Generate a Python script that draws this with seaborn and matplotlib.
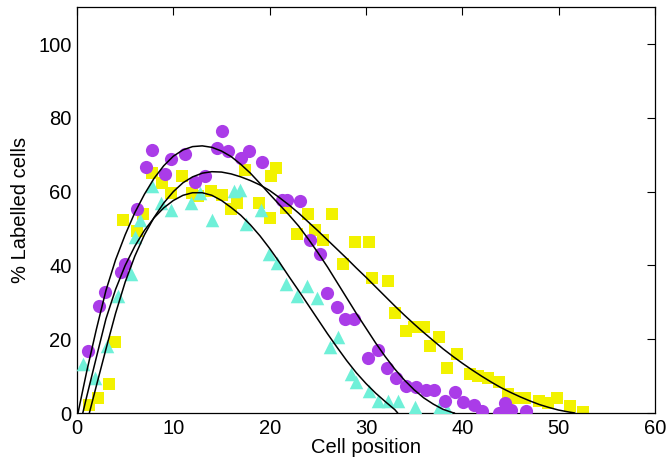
import numpy as np
import pandas as pd
import matplotlib
matplotlib.use("Agg")
import matplotlib.pyplot as plt
import seaborn as sns

# scatter data
purple_x = [1.16, 2.27, 2.94, 4.6, 5.0, 6.2, 7.2, 7.8, 9.1, 9.8, 11.2, 12.2, 13.3, 14.5,
            15.1, 15.7, 17.0, 17.9, 19.2, 21.3, 21.8, 23.1, 24.2, 25.2, 26.0, 27.0, 27.8,
            28.8, 30.2, 31.3, 32.2, 33.1, 34.2, 35.2, 36.2, 37.1, 38.2, 39.2, 40.1, 41.2,
            42.1, 43.8, 44.4, 45.1, 46.6]
purple_y = [16.8, 29.0, 32.8, 38.2, 40.4, 55.3, 66.8, 71.2, 64.9, 68.8, 70.3, 62.5, 64.3, 71.8,
            76.3, 71.1, 69.1, 70.9, 67.9, 57.8, 57.6, 57.4, 46.8, 43.2, 32.6, 28.8, 25.6,
            25.6, 15.0, 17.0, 12.2, 9.5, 7.2, 7.1, 6.3, 6.3, 3.3, 5.6, 2.9, 2.3,
            0.5, 0.0, 2.7, 0.8, 0.6]

yellow_x = [1.25, 2.2, 3.3, 3.9, 4.8, 6.2, 6.9, 7.8, 8.8, 9.8, 10.9, 11.9, 12.6, 13.9, 15.1,
            16.0, 16.6, 17.4, 18.9, 20.0, 20.1, 20.7, 21.7, 22.8, 24.0, 24.7, 25.5, 26.5,
            27.6, 28.9, 30.3, 30.6, 32.3, 33.0, 34.2, 35.0, 36.0, 36.7, 37.6, 38.4, 39.5,
            40.8, 41.6, 42.7, 43.8, 44.7, 45.7, 46.5, 48.0, 48.9, 49.8, 51.2, 52.5]
yellow_y = [2.2, 4.1, 7.8, 19.2, 52.2, 49.3, 53.8, 65.0, 62.3, 59.6, 64.1, 59.6, 58.9, 60.1, 59.2,
            55.3, 56.8, 65.9, 56.8, 52.9, 64.1, 66.4, 55.6, 48.6, 53.8, 49.7, 46.8, 53.8,
            40.5, 46.4, 46.4, 36.7, 35.9, 27.0, 22.3, 23.2, 23.2, 18.2, 20.6, 12.2, 16.1,
            10.7, 10.1, 9.5, 8.3, 5.1, 4.2, 4.2, 3.2, 2.7, 4.2, 1.8, 0.2]

cyan_x = [0.67, 1.9, 3.1, 4.3, 5.6, 6.0, 6.5, 7.8, 8.7, 9.8, 11.8, 12.8, 14.0, 16.3, 16.9,
          17.5, 19.1, 19.96, 20.8, 21.7, 22.8, 23.9, 24.9, 26.3, 27.1, 28.4, 29.0, 30.3,
          31.3, 32.3, 33.3, 35.1, 37.6, 38.4]
cyan_y = [13.2, 9.4, 18.2, 31.7, 37.6, 47.7, 52.4, 61.4, 56.9, 55.1, 56.8, 59.6, 52.2, 60.1, 60.5,
          51.3, 55.1, 43.2, 40.7, 34.9, 31.7, 34.4, 31.1, 17.9, 20.6, 10.5, 8.3, 6.0,
          3.3, 3.3, 3.3, 1.5, 1.3, 0.8]

# fitted curves
purple_fit_x = [0.1, 1, 2, 3, 4, 5, 6, 7, 8, 9, 10, 11, 12, 13, 14, 15, 16, 17, 18, 19, 20,
                21, 22, 23, 24, 25, 26, 27, 28, 29, 30, 31, 32, 33, 34, 35, 36, 37, 38, 39, 39.2]
purple_fit_y = [0, 11.2, 22.6, 33.2, 41.5, 48.3, 54.3, 59.3, 63.6, 67.0, 69.6, 71.3, 72.2, 72.4,
                72.0, 71.0, 69.5, 67.4, 65.0, 62.2, 59.3, 56.5, 53.7, 50.7, 47.2, 43.5, 39.6,
                35.4, 31.2, 27.0, 23.0, 19.0, 15.3, 11.9, 8.9, 6.3, 4.1, 2.4, 1.0, 0.1, 0]

yellow_fit_x = [1.28, 2, 3, 4, 5, 6, 7, 8, 9, 10, 11, 12, 13, 14, 15, 16, 17, 18, 19, 20, 21,
                22, 23, 24, 25, 26, 27, 28, 29, 30, 31, 32, 33, 34, 35, 36, 37, 38, 39, 40,
                41, 42, 43, 44, 45, 46, 47, 48, 49, 50, 51, 51.7]
yellow_fit_y = [0, 7.3, 17.3, 27.0, 35.5, 42.5, 48.3, 53.0, 56.9, 60.0, 62.4, 64.0, 65.0, 65.4,
                65.3, 64.8, 64.0, 63.0, 61.8, 60.3, 58.4, 56.4, 54.2, 51.8, 49.4, 46.9, 44.4,
                41.9, 39.3, 36.8, 34.2, 31.6, 29.0, 26.5, 24.1, 21.8, 19.6, 17.4, 15.4, 13.5,
                11.7, 10.0, 8.4, 6.9, 5.6, 4.4, 3.3, 2.3, 1.5, 0.8, 0.3, 0]

cyan_fit_x = [0.6, 1, 2, 3, 4, 5, 6, 7, 8, 9, 10, 11, 12, 13, 14, 15, 16, 17, 18, 19, 20, 21,
              22, 23, 24, 25, 26, 27, 28, 29, 30, 31, 32, 33, 33.3]
cyan_fit_y = [0, 4.4, 15.0, 25.5, 33.5, 40.0, 45.2, 49.5, 52.9, 55.6, 57.6, 59.0, 59.7, 59.7,
              59.0, 57.6, 55.7, 53.6, 51.0, 48.0, 44.6, 40.9, 37.0, 33.2, 29.3, 25.4, 21.5,
              17.8, 14.2, 10.9, 8.0, 5.4, 3.1, 0.9, 0]

sns.set_style("white")
plt.rcParams["font.family"] = ["Liberation Sans", "DejaVu Sans"]
plt.rcParams["text.color"] = "black"
plt.rcParams["axes.labelcolor"] = "black"

fig = plt.figure(figsize=(6.71, 4.75), dpi=100)
ax = fig.add_axes([0.1148, 0.1305, 0.8612, 0.8545])

yellow_df = pd.DataFrame({"x": yellow_x, "y": yellow_y})
cyan_df = pd.DataFrame({"x": cyan_x, "y": cyan_y})
purple_df = pd.DataFrame({"x": purple_x, "y": purple_y})

sns.scatterplot(data=yellow_df, x="x", y="y", marker="s", s=72, color="#f2f200",
                linewidth=0, ax=ax, zorder=2)
sns.scatterplot(data=cyan_df, x="x", y="y", marker="^", s=95, color="#6ff0d8",
                linewidth=0, ax=ax, zorder=3)
sns.scatterplot(data=purple_df, x="x", y="y", marker="o", s=90, color="#aa3ce8",
                linewidth=0, ax=ax, zorder=4)

for fx, fy in [(purple_fit_x, purple_fit_y), (yellow_fit_x, yellow_fit_y), (cyan_fit_x, cyan_fit_y)]:
    fit_df = pd.DataFrame({"x": fx, "y": fy})
    sns.lineplot(data=fit_df, x="x", y="y", estimator=None, sort=False, color="black",
                 linewidth=1.1, ax=ax, zorder=5)

ax.set_xlim(0, 60)
ax.set_ylim(0, 110)
ax.set_xticks([0, 10, 20, 30, 40, 50, 60])
ax.set_yticks([0, 20, 40, 60, 80, 100])
ax.tick_params(direction="in", length=6, width=0.8, top=True, right=True,
               labelsize=14.5, colors="black", labelcolor="black", pad=4)
for sp in ax.spines.values():
    sp.set_color("black")
    sp.set_linewidth(0.9)
ax.set_xlabel("Cell position", fontsize=14.5, labelpad=0, color="black")
ax.set_ylabel("% Labelled cells", fontsize=14.5, labelpad=6, color="black")

fig.savefig("out.png", dpi=100)
